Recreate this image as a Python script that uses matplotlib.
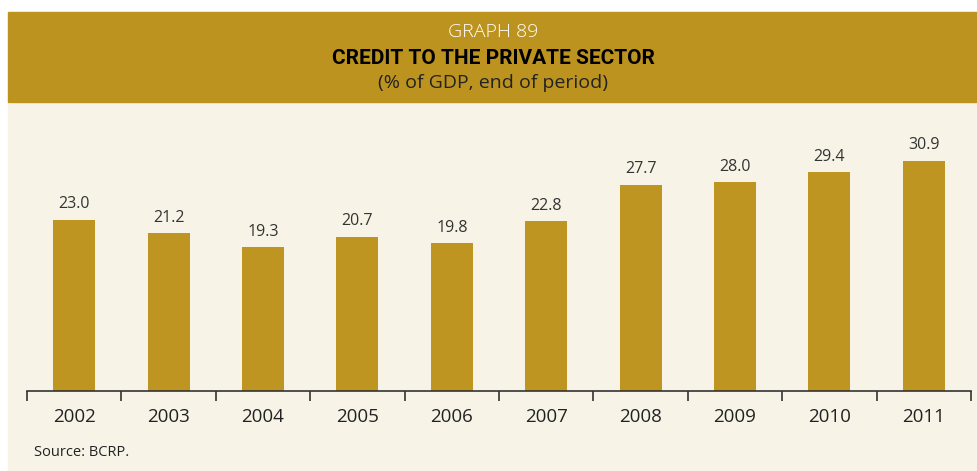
import matplotlib.pyplot as plt
from matplotlib.patches import Rectangle

years = ['2002', '2003', '2004', '2005', '2006', '2007', '2008', '2009', '2010', '2011']
credit = [23.0, 21.2, 19.3, 20.7, 19.8, 22.8, 27.7, 28.0, 29.4, 30.9]

gold = '#bd931f'
bar_gold = '#be9520'
cream = '#f7f4e7'
W, H = 978, 471

plt.rcParams['font.family'] = ['Open Sans', 'DejaVu Sans']

fig = plt.figure(figsize=(W / 100, H / 100), dpi=100)
fig.patch.set_facecolor('white')

# cream panel and gold header band
fig.patches.append(Rectangle((8 / W, 0), 1 - 8 / W, (H - 102) / H,
                             transform=fig.transFigure, color=cream, zorder=-5))
fig.patches.append(Rectangle((8 / W, (H - 102) / H), 1 - 8 / W, 90 / H,
                             transform=fig.transFigure, color=gold, zorder=-5))

cx = (8 + W) / 2 / W
fig.text(cx, 1 - 32 / H, 'GRAPH 89', ha='center', va='center', color='white',
         fontsize=14, fontweight='light')
fig.text(cx, 1 - 58 / H, 'CREDIT TO THE PRIVATE SECTOR', ha='center', va='center',
         color='black', fontsize=15, fontweight='bold',
         family=['Roboto', 'DejaVu Sans'])
fig.text(cx, 1 - 83 / H, '(% of GDP, end of period)', ha='center', va='center',
         color='#222222', fontsize=14)

ax = fig.add_axes([27 / W, (H - 391) / H, (971 - 27) / W, (391 - 112) / H])
ax.set_zorder(2)
ax.set_facecolor('none')
x = list(range(len(years)))
bars = ax.bar(x, credit, width=0.445, color=bar_gold, zorder=2)
for xi, v in zip(x, credit):
    ax.text(xi, v + 1.0, f'{v:.1f}', ha='center', va='bottom',
            fontsize=11.5, color='#333333')

ax.set_xlim(-0.5, len(years) - 0.5)
ax.set_ylim(0, 37.45)
for s in ['top', 'right', 'left']:
    ax.spines[s].set_visible(False)
ax.spines['bottom'].set_color('#333333')
ax.spines['bottom'].set_linewidth(1.2)
ax.set_yticks([])

# tick marks between categories, labels centred under bars
ax.set_xticks([i - 0.5 for i in range(len(years) + 1)])
ax.set_xticklabels([])
ax.tick_params(axis='x', length=7, width=1.2, color='#333333', direction='out')
for xi, lab in zip(x, years):
    ax.text(xi, -3.5, lab, ha='center', va='center', fontsize=13.5, color='#222222',
            clip_on=False)

fig.text(34 / W, 1 - 453 / H, 'Source: BCRP.', ha='left', va='center',
         fontsize=10.5, color='#222222')

fig.savefig('out.png', dpi=100, facecolor=fig.get_facecolor())
